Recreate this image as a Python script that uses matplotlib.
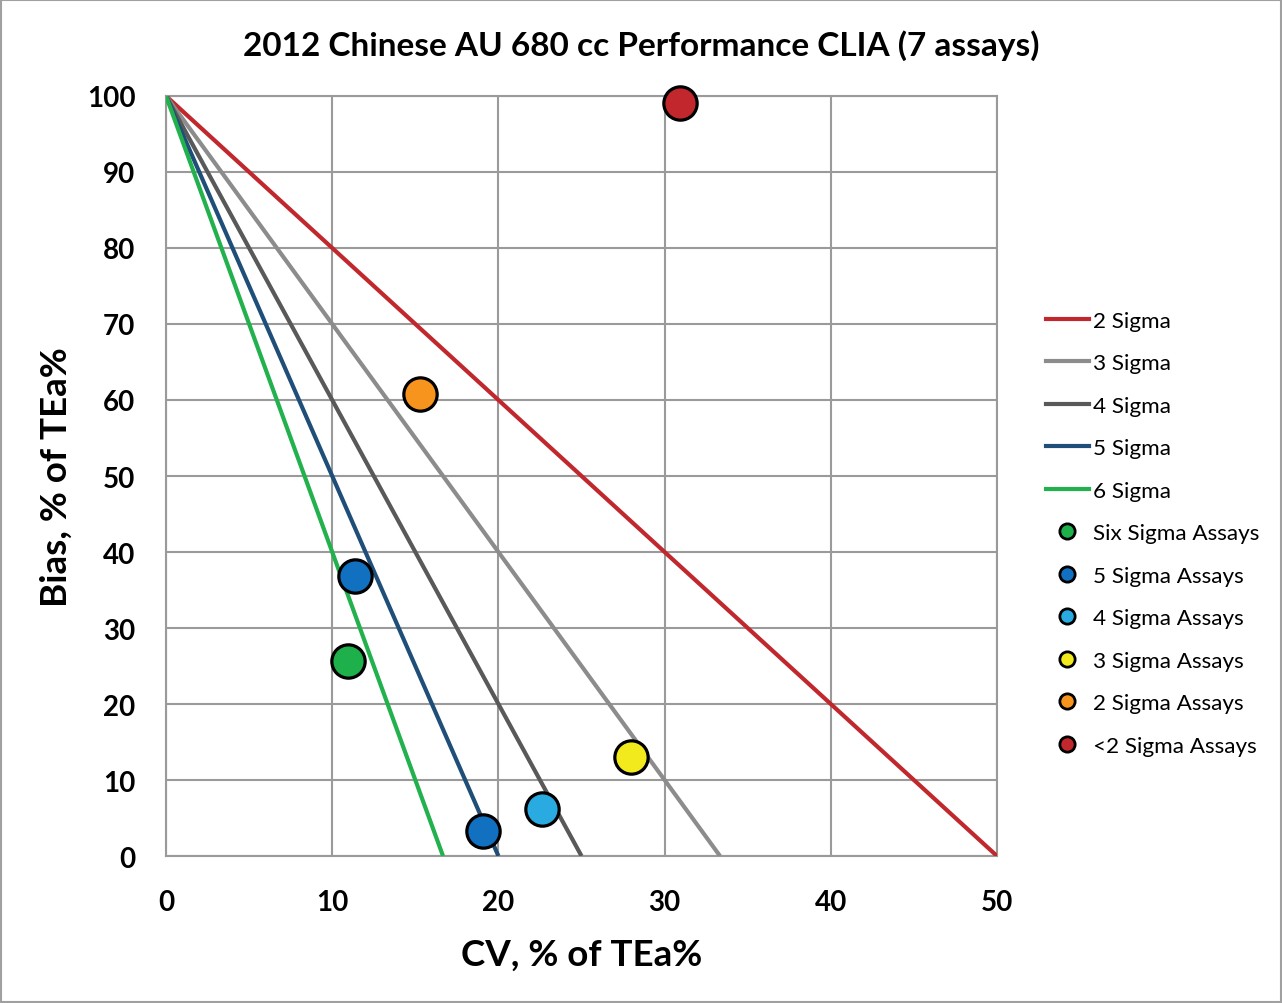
import numpy as np
import matplotlib.pyplot as plt
from matplotlib.lines import Line2D

plt.rcParams['font.family'] = ['Lato', 'DejaVu Sans']

# sigma lines: bias + sigma*cv = 100
sigmas = [2, 3, 4, 5, 6]
sigma_labels = ['2 Sigma', '3 Sigma', '4 Sigma', '5 Sigma', '6 Sigma']
sigma_colors = ['#C0282D', '#8C8C8C', '#595959', '#1F4E79', '#22B14C']

# assays (CV %, bias %)
groups = ['Six Sigma Assays', '5 Sigma Assays', '4 Sigma Assays',
          '3 Sigma Assays', '2 Sigma Assays', '<2 Sigma Assays']
group_colors = ['#1DB04B', '#1170BF', '#29ABE2', '#F2EA1C', '#F7941D', '#C1272D']
cv = [[10.95], [11.4, 19.1], [22.6], [28.0], [15.3], [30.9]]
bias = [[25.7], [36.8, 3.3], [6.2], [13.0], [60.8], [99.1]]

fig = plt.figure(figsize=(12.82, 10.04), dpi=100)
ax = fig.add_axes([0.1295, 0.1464, 0.6482, 0.757])

for s, lab, c in zip(sigmas, sigma_labels, sigma_colors):
    ax.plot([0, 100 / s], [100, 0], color=c, lw=3, label=lab, zorder=3,
            solid_capstyle='butt')

for g, c, xs, ys in zip(groups, group_colors, cv, bias):
    ax.plot(xs, ys, 'o', ms=24, mfc=c, mec='black', mew=2.3, zorder=4,
            clip_on=False)

ax.set_xlim(0, 50)
ax.set_ylim(0, 100)
ax.set_xticks(np.arange(0, 51, 10))
ax.set_yticks(np.arange(0, 101, 10))
ax.grid(True, color='#9A9A9A', lw=1.5)
ax.set_axisbelow(True)
for sp in ax.spines.values():
    sp.set_color('#9A9A9A')
    sp.set_linewidth(1.5)
ax.tick_params(length=0, labelsize=20)
ax.tick_params(axis='x', pad=24)
ax.tick_params(axis='y', pad=22)
for t in ax.get_xticklabels() + ax.get_yticklabels():
    t.set_fontweight('bold')

ax.set_xlabel('CV, % of TEa%', fontsize=26.5, fontweight='bold', labelpad=16)
ax.set_ylabel('Bias, % of TEa%', fontsize=26.5, fontweight='bold', labelpad=10)
fig.text(0.5, 0.955, '2012 Chinese AU 680 cc Performance CLIA (7 assays)',
         ha='center', va='center', fontsize=24, fontweight='bold')

handles = [Line2D([], [], color=c, lw=3) for c in sigma_colors]
handles += [Line2D([], [], ls='', marker='o', ms=11, mfc=c, mec='black', mew=2)
            for c in group_colors]
fig.legend(handles, sigma_labels + groups, loc='center left',
           bbox_to_anchor=(0.816, 0.468), frameon=False, fontsize=16.2,
           borderpad=0, borderaxespad=0, handlelength=1.9,
           handletextpad=0.2, labelspacing=1.0)

fig.patches.append(plt.Rectangle((0.001, 0.001), 0.998, 0.998,
                                 transform=fig.transFigure, fill=False,
                                 edgecolor='#A0A0A0', lw=1.5))

fig.savefig('out.png', dpi=100)
